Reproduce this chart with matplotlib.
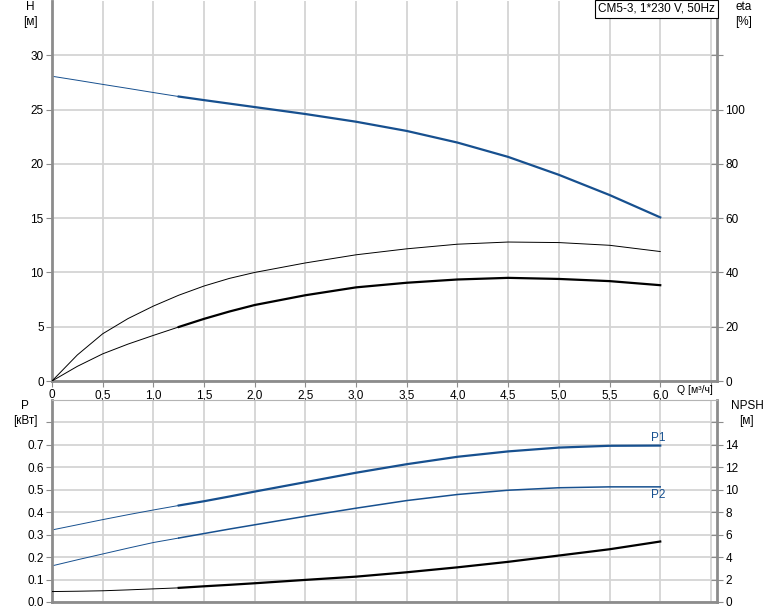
import matplotlib.pyplot as plt
import numpy as np

plt.rcParams['font.family'] = ['Liberation Sans', 'DejaVu Sans']
plt.rcParams['font.size'] = 8.5

# flow points [m3/h]
q = [0, 0.25, 0.5, 0.75, 1.0, 1.25, 1.5, 1.75, 2.0, 2.5, 3.0, 3.5, 4.0, 4.5, 5.0, 5.5, 6.0]
# head [m]
head = [28.07, 27.7, 27.32, 26.95, 26.57, 26.2, 25.87, 25.55, 25.23, 24.59, 23.88, 23.03,
        21.96, 20.64, 18.99, 17.13, 15.07]
# efficiencies [%]
eta_pump = [0, 9.6, 17.4, 23.0, 27.6, 31.6, 35.0, 37.8, 40.0, 43.5, 46.5, 48.7,
            50.4, 51.2, 51.0, 50.0, 47.7]
eta_total = [0, 5.4, 10.0, 13.6, 16.8, 19.9, 22.9, 25.6, 28.0, 31.6, 34.5, 36.2,
             37.4, 38.0, 37.6, 36.8, 35.3]
# power [kW]
p1 = [0.321, 0.344, 0.367, 0.389, 0.410, 0.430, 0.449, 0.470, 0.492, 0.534, 0.576, 0.614,
      0.647, 0.671, 0.688, 0.696, 0.697]
p2 = [0.161, 0.188, 0.214, 0.240, 0.265, 0.285, 0.305, 0.325, 0.344, 0.382, 0.418, 0.452,
      0.479, 0.498, 0.509, 0.513, 0.513]
# NPSH [m]
npsh = [0.93, 0.96, 1.00, 1.08, 1.17, 1.26, 1.40, 1.53, 1.67, 1.97, 2.26, 2.65,
        3.09, 3.58, 4.14, 4.70, 5.39]

x_ticks = [0, 0.5, 1.0, 1.5, 2.0, 2.5, 3.0, 3.5, 4.0, 4.5, 5.0, 5.5, 6.0, 6.5]
x_labels = ["0", "0,5", "1,0", "1,5", "2,0", "2,5", "3,0", "3,5", "4,0", "4,5", "5,0", "5,5", "6,0", ""]

blue = "#17508f"
grid_c = "#d4d4d4"
spine_c = "#8c8c8c"
W, Hpx = 774, 611
split = 5  # index of Q=1.25 where the thick part starts
thin, thick = 0.7, 1.6

fig = plt.figure(figsize=(W / 100, Hpx / 100), dpi=100)
ax1 = fig.add_axes([52 / W, 1 - 381 / Hpx, 665 / W, 380 / Hpx])
ax2 = fig.add_axes([52 / W, 1 - 602 / Hpx, 665 / W, 202 / Hpx])


def style(ax):
    ax.set_xlim(0, 6.56)
    ax.set_xticks(x_ticks)
    ax.grid(True, color=grid_c, lw=1.3)
    ax.set_axisbelow(True)
    for s in ["left", "right", "bottom"]:
        ax.spines[s].set_color(spine_c)
        ax.spines[s].set_linewidth(2)
    ax.spines["top"].set_color("#b4b4b4")
    ax.tick_params(direction="out", length=4, color=spine_c, pad=2)


style(ax1)
style(ax2)

# top panel
ax1.set_ylim(0, 35)
ax1.set_yticks([0, 5, 10, 15, 20, 25, 30])
ax1.set_xticklabels(x_labels)
ax1.spines["top"].set_visible(False)
ax1.plot(q[:split + 1], head[:split + 1], color=blue, lw=thin)
ax1.plot(q[split:], head[split:], color=blue, lw=thick)
eta1 = ax1.twinx()
eta1.set_ylim(0, 140)
eta1.set_yticks([0, 20, 40, 60, 80, 100, 120])
eta1.set_yticklabels(["0", "20", "40", "60", "80", "100", ""])
eta1.tick_params(direction="inout", length=8, color=spine_c, pad=2)
for s in eta1.spines.values():
    s.set_visible(False)
eta1.plot(q, eta_pump, color="black", lw=thin)
eta1.plot(q[:split + 1], eta_total[:split + 1], color="black", lw=thin)
eta1.plot(q[split:], eta_total[split:], color="black", lw=thick)

fig.text(677 / W, 1 - 385 / Hpx, "Q [м³/ч]", ha="left", va="top", fontsize=7.5, zorder=10)
ax1.text(-0.032, 1.0, "H\n[м]", transform=ax1.transAxes, ha="center", va="top",
         linespacing=1.3)
eta1.text(1.04, 1.0, "eta\n[%]", transform=eta1.transAxes, ha="center", va="top",
          linespacing=1.3)
ax1.text(0.997, 0.995, "CM5-3, 1*230 V, 50Hz", transform=ax1.transAxes, ha="right", va="top",
         bbox=dict(boxstyle="square,pad=0.25", fc="white", ec="black", lw=0.8))

# bottom panel
ax2.set_ylim(0, 0.9)
ax2.set_yticks([0, 0.1, 0.2, 0.3, 0.4, 0.5, 0.6, 0.7, 0.8])
ax2.set_yticklabels(["0.0", "0.1", "0.2", "0.3", "0.4", "0.5", "0.6", "0.7", ""])
ax2.set_xticklabels([])
ax2.tick_params(axis="x", length=0)
ax2.plot(q[:split + 1], p1[:split + 1], color=blue, lw=thin)
ax2.plot(q[split:], p1[split:], color=blue, lw=thick)
ax2.plot(q[:split + 1], p2[:split + 1], color=blue, lw=thin)
ax2.plot(q[split:], p2[split:], color=blue, lw=1.1)
ax2.text(q[-1] - 0.02, p1[-1] + 0.008, "P1", color=blue, ha="center", va="bottom")
ax2.text(q[-1] - 0.02, p2[-1] - 0.01, "P2", color=blue, ha="center", va="top")
ax2.text(-0.04, 1.0, "P\n[кВт]", transform=ax2.transAxes, ha="center", va="top",
         linespacing=1.3)

n1 = ax2.twinx()
n1.set_ylim(0, 18)
n1.set_yticks([0, 2, 4, 6, 8, 10, 12, 14, 16])
n1.set_yticklabels(["0", "2", "4", "6", "8", "10", "12", "14", ""])
n1.tick_params(direction="inout", length=8, color=spine_c, pad=2)
for s in n1.spines.values():
    s.set_visible(False)
n1.plot(q[:split + 1], npsh[:split + 1], color="black", lw=thin)
n1.plot(q[split:], npsh[split:], color="black", lw=thick)
n1.text(1.045, 1.0, "NPSH\n[м]", transform=n1.transAxes, ha="center", va="top",
        linespacing=1.3)

fig.savefig("out.png", dpi=100)
